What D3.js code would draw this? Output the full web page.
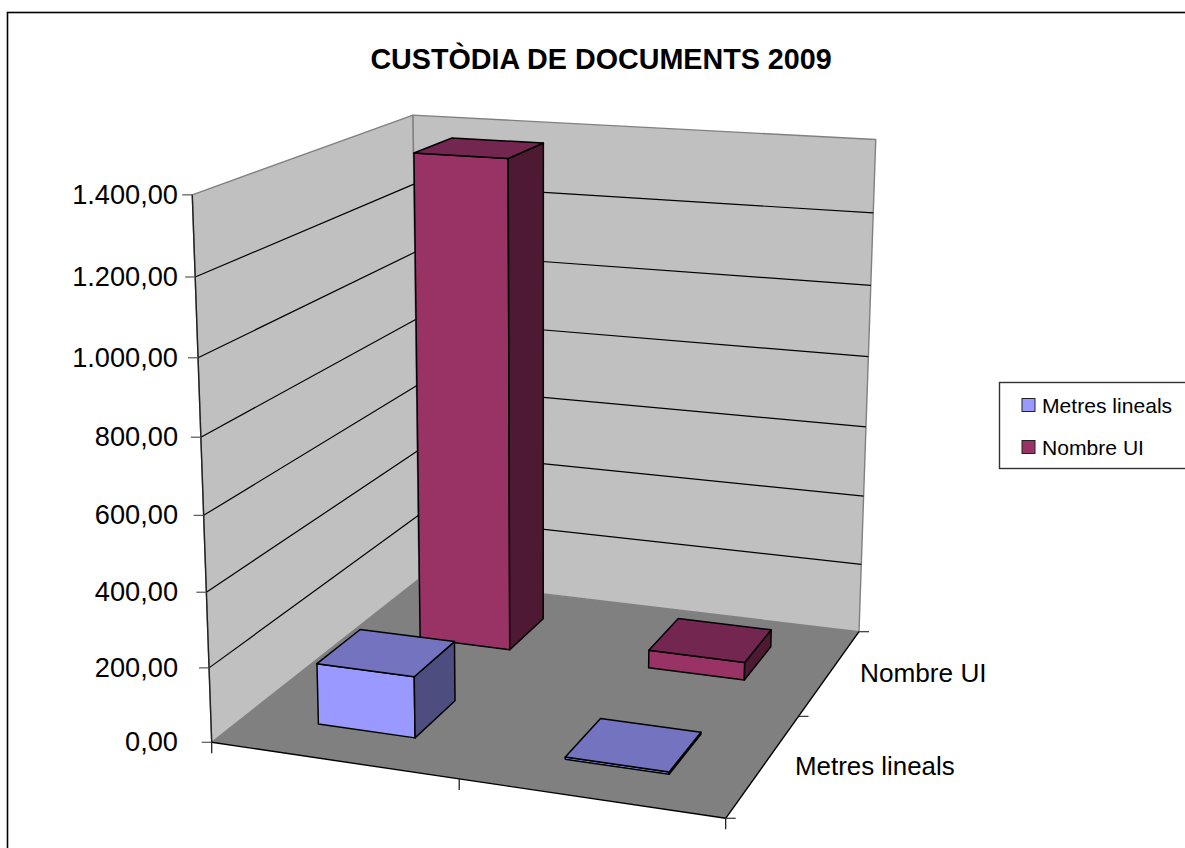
<!DOCTYPE html>
<html>
<head>
<meta charset="utf-8">
<script src="https://cdnjs.cloudflare.com/ajax/libs/d3/7.8.5/d3.min.js"></script>
<style>
html, body { margin: 0; padding: 0; background: #fff; }
svg { display: block; }
text { font-family: "Liberation Sans", Arial, sans-serif; fill: #000; }
</style>
</head>
<body>
<script>
"use strict";

var titleText = "CUSTÒDIA DE DOCUMENTS 2009";
var seriesNames = ["Metres lineals", "Nombre UI"];
var categories = ["A", "B"];
var metresValues = [165, 6];
var nombreValues = [1375, 50];
var valueTicks = [0, 200, 400, 600, 800, 1000, 1200, 1400];

var frontColors = { "Metres lineals": "#9999ff", "Nombre UI": "#993366" };
var topColors = { "Metres lineals": "#7373bf", "Nombre UI": "#732650" };
var sideColors = { "Metres lineals": "#4d4d80", "Nombre UI": "#4d1933" };

var width = 1185, height = 848;

var svg = d3.select("body").append("svg")
    .attr("width", width)
    .attr("height", height);

// scales for the three box directions, all mapped to the unit cube
var xScale = d3.scaleBand().domain(categories).range([0, 1]).paddingInner(0.6).paddingOuter(0.3);
var zScale = d3.scaleBand().domain(seriesNames).range([0, 1]).paddingInner(0.6).paddingOuter(0.3);
var yScale = d3.scaleLinear().domain([0, 1400]).range([0, 1]);

// screen corners of the chart box
var floorCorners = [[211.7, 742.3], [725.7, 818.3], [859, 631.7], [419, 579]];
var topCorners = [
    { u: 0, v: 0, p: [192, 194] },
    { u: 0, v: 1, p: [413.3, 114.7] },
    { u: 1, v: 1, p: [875.7, 140.7] }
];

var project = makeProjection(floorCorners, topCorners);

// floor homography from the unit square, then the height column by least squares
function makeProjection(fc, tc) {
    var x0 = fc[0][0], y0 = fc[0][1], x1 = fc[1][0], y1 = fc[1][1];
    var x2 = fc[2][0], y2 = fc[2][1], x3 = fc[3][0], y3 = fc[3][1];
    var dx1 = x1 - x2, dx2 = x3 - x2, sx = x0 - x1 + x2 - x3;
    var dy1 = y1 - y2, dy2 = y3 - y2, sy = y0 - y1 + y2 - y3;
    var det = dx1 * dy2 - dx2 * dy1;
    var g = (sx * dy2 - dx2 * sy) / det;
    var h = (dx1 * sy - sx * dy1) / det;
    var a = x1 - x0 + g * x1, b = x3 - x0 + h * x3, c = x0;
    var d = y1 - y0 + g * y1, e = y3 - y0 + h * y3, f = y0;

    var rows = tc.map(function(t) {
        var W = g * t.u + h * t.v + 1;
        return {
            x: t.p[0], y: t.p[1],
            A: t.p[0] * W - (a * t.u + b * t.v + c),
            B: t.p[1] * W - (d * t.u + e * t.v + f)
        };
    });
    var mx = d3.mean(rows, function(r) { return r.x; });
    var my = d3.mean(rows, function(r) { return r.y; });
    var mA = d3.mean(rows, function(r) { return r.A; });
    var mB = d3.mean(rows, function(r) { return r.B; });
    var r = -d3.sum(rows, function(t) { return (t.x - mx) * (t.A - mA) + (t.y - my) * (t.B - mB); }) /
        d3.sum(rows, function(t) { return (t.x - mx) * (t.x - mx) + (t.y - my) * (t.y - my); });
    var p = mA + mx * r;
    var q = mB + my * r;

    return function(u, v, w) {
        var W = g * u + h * v + 1 + r * w;
        return [(a * u + b * v + c + p * w) / W, (d * u + e * v + f + q * w) / W];
    };
}

function face(points, fill, stroke, strokeWidth) {
    svg.append("path")
        .attr("d", d3.line()(points) + "Z")
        .attr("fill", fill)
        .attr("stroke", stroke)
        .attr("stroke-width", strokeWidth)
        .attr("stroke-linejoin", "round");
}

function segment(p, q, color, strokeWidth) {
    svg.append("line")
        .attr("x1", p[0]).attr("y1", p[1])
        .attr("x2", q[0]).attr("y2", q[1])
        .attr("stroke", color)
        .attr("stroke-width", strokeWidth || 1.2);
}

// outer chart border, the right and bottom sides fall outside the photo
svg.append("rect")
    .attr("x", 7.5).attr("y", 12.5)
    .attr("width", 1300).attr("height", 1000)
    .attr("fill", "#fff").attr("stroke", "#000").attr("stroke-width", 1.6);

svg.append("text")
    .attr("x", 601).attr("y", 69)
    .attr("text-anchor", "middle")
    .attr("font-size", 28.7)
    .attr("font-weight", "bold")
    .text(titleText);

// walls and floor
face([project(0, 0, 0), project(0, 1, 0), project(0, 1, 1), project(0, 0, 1)], "#c0c0c0", "#808080", 1.4);
face([project(0, 1, 0), project(1, 1, 0), project(1, 1, 1), project(0, 1, 1)], "#c0c0c0", "#808080", 1.4);
face([project(0, 0, 0), project(1, 0, 0), project(1, 1, 0), project(0, 1, 0)], "#808080", "none", 0);

// gridlines over both walls
valueTicks.slice(1, -1).forEach(function(t) {
    var w = yScale(t);
    segment(project(0, 0, w), project(0, 1, w), "#000");
    segment(project(0, 1, w), project(1, 1, w), "#000");
});

// value axis
segment(project(0, 0, 0), project(0, 0, 1), "#222", 1.4);
valueTicks.forEach(function(t) {
    var p = project(0, 0, yScale(t));
    segment([p[0] - 10, p[1]], p, "#555");
    svg.append("text")
        .attr("x", 178).attr("y", p[1] + 9)
        .attr("text-anchor", "end")
        .attr("font-size", 27.2)
        .text(d3.format(",.2f")(t).replace(/,/g, "#").replace(".", ",").replace(/#/g, "."));
});

// floor edges and their ticks
segment(project(0, 0, 0), project(1, 0, 0), "#000", 1.4);
segment(project(1, 0, 0), project(1, 1, 0), "#000", 1.4);
[0, 0.5, 1].forEach(function(u) {
    var p = project(u, 0, 0);
    segment(p, [p[0], p[1] + 11], "#111");
});
[0, 0.5, 1].forEach(function(v) {
    var p = project(1, v, 0);
    segment(p, [p[0] + 10, p[1]], "#333");
});

svg.append("text").attr("x", 795).attr("y", 775).attr("font-size", 25.9).text(seriesNames[0]);
svg.append("text").attr("x", 860).attr("y", 682).attr("font-size", 26.2).text(seriesNames[1]);

// one box per series and category, back row first
function drawBox(name, category, value) {
    var u0 = xScale(category), u1 = u0 + xScale.bandwidth();
    var v0 = zScale(name), v1 = v0 + zScale.bandwidth();
    var w = yScale(value);
    face([project(u0, v0, 0), project(u1, v0, 0), project(u1, v0, w), project(u0, v0, w)], frontColors[name], "#000", 1.5);
    face([project(u1, v0, 0), project(u1, v1, 0), project(u1, v1, w), project(u1, v0, w)], sideColors[name], "#000", 1.5);
    face([project(u0, v0, w), project(u1, v0, w), project(u1, v1, w), project(u0, v1, w)], topColors[name], "#000", 1.5);
}

categories.forEach(function(c, i) { drawBox(seriesNames[1], c, nombreValues[i]); });
categories.forEach(function(c, i) { drawBox(seriesNames[0], c, metresValues[i]); });

// legend
svg.append("rect")
    .attr("x", 999.5).attr("y", 382.5)
    .attr("width", 300).attr("height", 86)
    .attr("fill", "#fff").attr("stroke", "#333").attr("stroke-width", 1.4);

var legendRows = svg.selectAll(".legendRow")
    .data(seriesNames)
    .enter().append("g")
    .attr("class", "legendRow")
    .attr("transform", function(d, i) { return "translate(1022," + (398.5 + i * 42) + ")"; });
legendRows.append("rect")
    .attr("width", 13).attr("height", 13)
    .attr("fill", function(d) { return frontColors[d]; })
    .attr("stroke", "#222").attr("stroke-width", 1);
legendRows.append("text")
    .attr("x", 20).attr("y", 14)
    .attr("font-size", 21.1)
    .text(function(d) { return d; });
</script>
</body>
</html>
